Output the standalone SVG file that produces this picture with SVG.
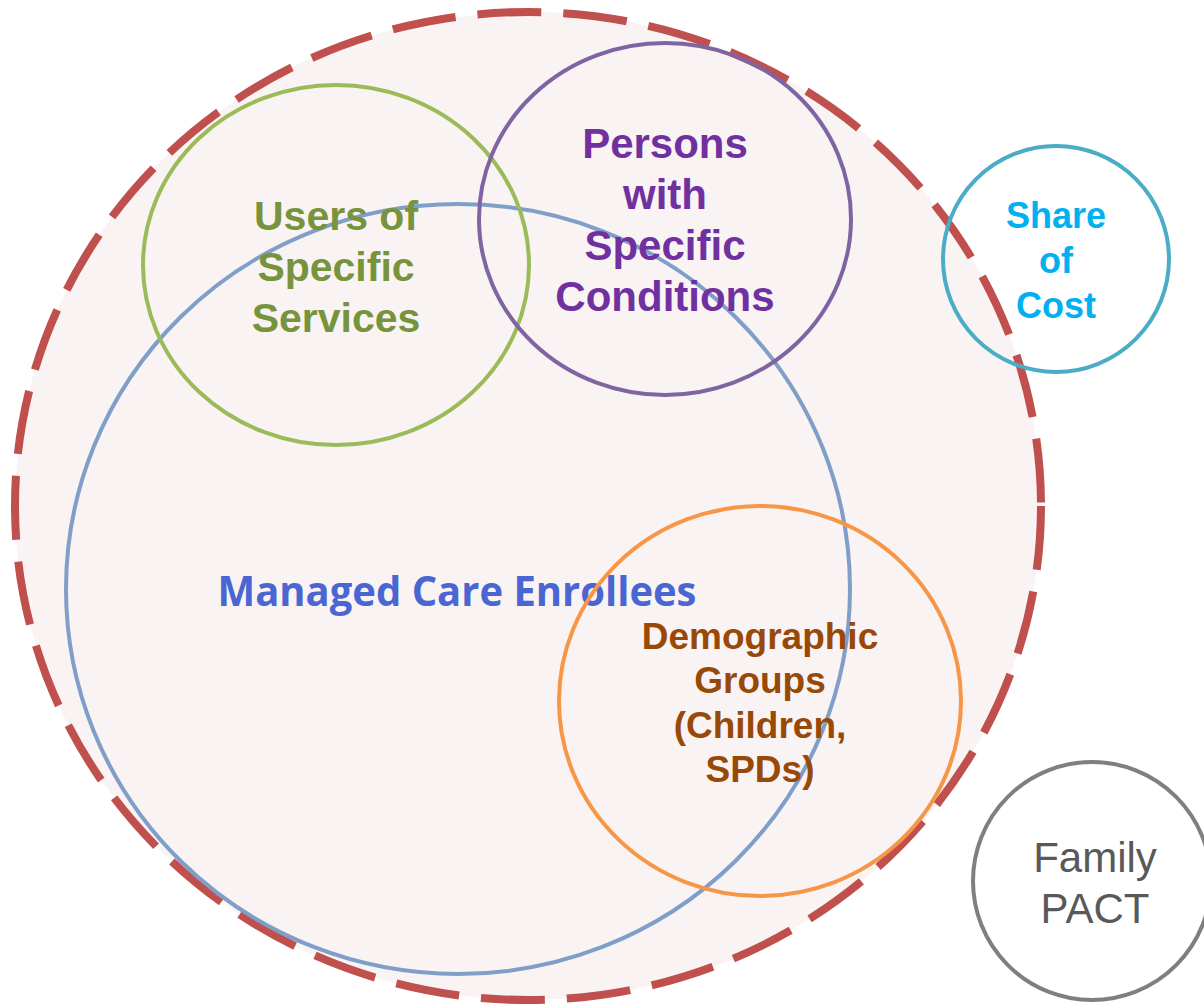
<svg xmlns="http://www.w3.org/2000/svg" width="1204" height="1004" viewBox="0 0 1204 1004">
<style>
.c{fill:none;stroke-width:4}
.t{font-family:"Liberation Sans",Arial,sans-serif;font-weight:bold;text-anchor:middle}
</style>
<rect width="1204" height="1004" fill="#ffffff"/>
<g id="outer">
<ellipse cx="528" cy="506" rx="513" ry="494" fill="#F9F3F3" stroke="#C0504D" stroke-width="8" stroke-dasharray="64 22"/>
</g>
<g id="managed-care">
<ellipse class="c" cx="458" cy="589" rx="392" ry="385" stroke="#7F9FC8"/>
<text x="457" y="606" font-family="'Open Sans','Liberation Sans',sans-serif" font-weight="bold" font-size="41" fill="#4A66D2" text-anchor="middle" textLength="479" lengthAdjust="spacingAndGlyphs">Managed Care Enrollees</text>
</g>
<g id="users">
<ellipse class="c" cx="336" cy="265" rx="193" ry="180" stroke="#9BBB59"/>
<text class="t" font-size="41" fill="#77933C"><tspan x="336" y="230">Users of</tspan><tspan x="336" y="281">Specific</tspan><tspan x="336" y="332">Services</tspan></text>
</g>
<g id="persons">
<ellipse class="c" cx="665" cy="219" rx="186" ry="176" stroke="#8064A2"/>
<text class="t" font-size="42" fill="#7030A0"><tspan x="665" y="158">Persons</tspan><tspan x="665" y="209">with</tspan><tspan x="665" y="260">Specific</tspan><tspan x="665" y="311">Conditions</tspan></text>
</g>
<g id="demographic">
<ellipse class="c" cx="760" cy="701" rx="201" ry="195" stroke="#F79646"/>
<text class="t" font-size="37" fill="#984807"><tspan x="760" y="649">Demographic</tspan><tspan x="760" y="693">Groups</tspan><tspan x="760" y="738">(Children,</tspan><tspan x="760" y="782">SPDs)</tspan></text>
</g>
<g id="share-of-cost">
<circle class="c" cx="1056" cy="259" r="113" stroke="#4BACC6" stroke-width="4.5"/>
<text class="t" font-size="36" fill="#00B0F0"><tspan x="1056" y="228">Share</tspan><tspan x="1056" y="273">of</tspan><tspan x="1056" y="318">Cost</tspan></text>
</g>
<g id="family-pact">
<circle class="c" cx="1092" cy="881" r="119" stroke="#7F7F7F"/>
<text font-family="'Liberation Sans',Arial,sans-serif" font-size="42" fill="#595959" text-anchor="middle"><tspan x="1095" y="872">Family</tspan><tspan x="1095" y="923">PACT</tspan></text>
</g>
<g id="connectors"/>
</svg>
